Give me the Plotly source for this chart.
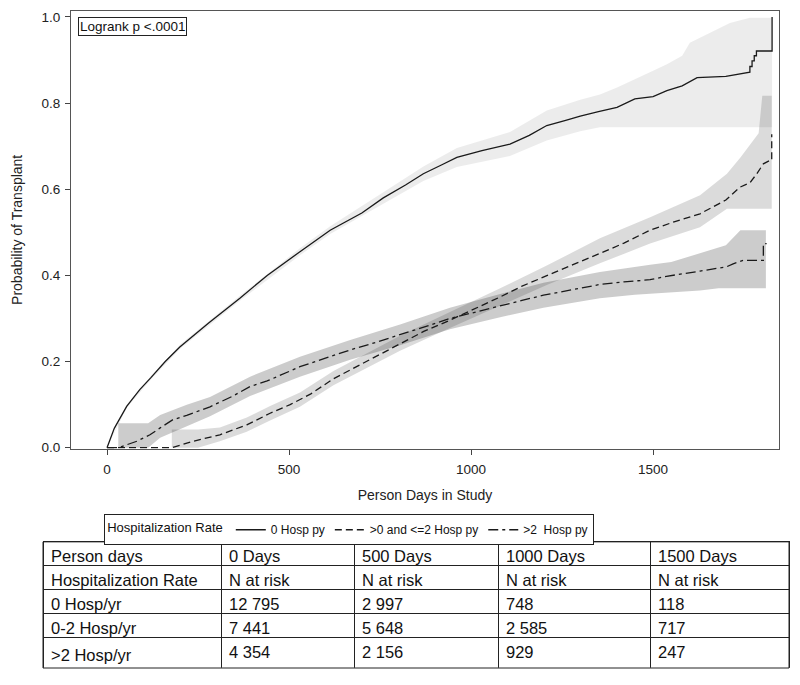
import plotly.graph_objects as go

# ---------------- data ----------------
# Group 1: 0 Hosp py (solid)
s_days = [0, 20, 54, 90, 120, 160, 200, 280, 365, 440, 530, 613, 700, 759, 820, 869, 920, 961,
          1030, 1107, 1160, 1208, 1260, 1300, 1350, 1401, 1450, 1500, 1538, 1580, 1621, 1700,
          1766, 1766, 1772, 1772, 1778, 1778, 1784, 1784, 1827, 1827]
s_est = [0, .045, .096, .135, .162, .2, .234, .29, .347, .40, .455, .505, .545, .58, .61, .636, .657, .674,
         .69, .705, .725, .748, .76, .77, .78, .79, .81, .815, .829, .84, .859, .862,
         .872, .885, .885, .898, .898, .91, .91, .921, .921, 1.0]
sb_days = [0, 54, 120, 200, 365, 530, 613, 759, 869, 961, 1107, 1208, 1300, 1354, 1401, 1500,
           1538, 1580, 1601, 1656, 1711, 1766, 1827]
sb_lo = [0, .092, .158, .229, .341, .447, .496, .567, .619, .652, .677, .713, .735, .744, .744, .744,
         .744, .744, .744, .744, .744, .744, .744]
sb_hi = [0, .100, .166, .239, .353, .463, .514, .593, .653, .696, .733, .783, .808, .82, .836, .875,
         .89, .91, .94, .963, .986, .998, .998]

# Group 2: >0 and <=2 Hosp py (dashed)
d_days = [0, 178, 237, 310, 384, 448, 503, 560, 622, 700, 805, 870, 942, 1010, 1080, 1140, 1208,
          1280, 1354, 1420, 1492, 1560, 1629, 1700, 1739, 1766, 1785, 1803, 1821, 1826, 1826]
d_est = [0, 0, .015, .03, .053, .08, .10, .125, .16, .195, .242, .27, .296, .322, .35, .375, .40,
         .425, .451, .475, .505, .525, .543, .575, .605, .615, .636, .659, .667, .667, .728]
db_days = [178, 250, 310, 384, 448, 530, 622, 805, 942, 1080, 1208, 1354, 1492, 1629, 1703, 1740,
           1775, 1790, 1800, 1826]
db_lo = [0, 0, .015, .037, .063, .095, .145, .225, .278, .33, .378, .428, .474, .512, .555, .555,
         .555, .555, .555, .555]
db_hi = [.042, .042, .047, .07, .097, .128, .178, .26, .315, .37, .423, .486, .535, .586, .636, .674,
         .713, .73, .817, .817]

# Group 3: >2 Hosp py (dash-dot)
dd_days = [0, 31, 82, 118, 146, 181, 219, 283, 346, 393, 440, 530, 600, 668, 740, 805, 870, 942,
           1010, 1080, 1140, 1199, 1280, 1354, 1420, 1492, 1537, 1580, 1629, 1702, 1720, 1748,
           1803, 1803, 1812]
dd_est = [0, 0, .015, .03, .046, .065, .075, .095, .12, .142, .155, .188, .208, .227, .245, .262, .28, .300,
          .315, .33, .342, .354, .367, .379, .385, .39, .398, .403, .41, .42, .427, .435,
          .435, .474, .474]
ddb_days = [31, 113, 146, 219, 283, 393, 530, 668, 805, 942, 1080, 1199, 1354, 1450, 1492, 1550,
            1629, 1680, 1700, 1740, 1810]
ddb_lo = [0, 0, .023, .05, .073, .12, .165, .204, .238, .275, .303, .325, .347, .355, .357, .36,
          .365, .37, .37, .37, .37]
ddb_hi = [.057, .057, .076, .1, .118, .165, .211, .25, .286, .325, .357, .383, .408, .42, .425, .431,
          .451, .465, .47, .505, .505]

group_names = ["0 Hosp py", ">0 and &lt;=2 Hosp py", ">2  Hosp py"]

x_ticks = [0, 500, 1000, 1500]
y_ticks = [0.0, 0.2, 0.4, 0.6, 0.8, 1.0]

# Number-at-risk table
table_header = ["Person days", "0 Days", "500 Days", "1000 Days", "1500 Days"]
table_row_labels = ["Hospitalization Rate", "0 Hosp/yr", "0-2 Hosp/yr", ">2 Hosp/yr"]
risk_0 = [12795, 2997, 748, 118]
risk_02 = [7441, 5648, 2585, 717]
risk_gt2 = [4354, 2156, 929, 247]

# ---------------- figure ----------------
FONT = "Liberation Sans, Arial, sans-serif"
LINE = "#1a1a1a"
TABLE_TOP = 0.192

fig = go.Figure()

def band(xs, lo, hi, color):
    fig.add_trace(go.Scatter(
        x=list(xs) + list(xs)[::-1], y=list(lo) + list(hi)[::-1],
        fill="toself", fillcolor=color, line=dict(width=0), mode="lines",
        showlegend=False, hoverinfo="skip"))

band(sb_days, sb_lo, sb_hi, "rgba(0,0,0,0.075)")
band(db_days, db_lo, db_hi, "rgba(0,0,0,0.14)")
band(ddb_days, ddb_lo, ddb_hi, "rgba(0,0,0,0.2)")

fig.add_trace(go.Scatter(x=s_days, y=s_est, mode="lines", name=group_names[0],
                         line=dict(color=LINE, width=1.3, dash="solid")))
fig.add_trace(go.Scatter(x=d_days, y=d_est, mode="lines", name=group_names[1],
                         line=dict(color=LINE, width=1.3, dash="7px,4px")))
fig.add_trace(go.Scatter(x=dd_days, y=dd_est, mode="lines", name=group_names[2],
                         line=dict(color=LINE, width=1.3, dash="10px,4px,3px,4px")))

def fmt(v):
    return f"{v:,}".replace(",", " ")

cols = [table_row_labels]
for i in range(4):
    cols.append(["N at risk", fmt(risk_0[i]), fmt(risk_02[i]), fmt(risk_gt2[i])])

fig.add_trace(go.Table(
    domain=dict(x=[0, 1], y=[0, TABLE_TOP]),
    columnwidth=[178, 133, 144, 152, 139],
    header=dict(values=table_header, align="left", height=24,
                fill=dict(color="white"), line=dict(color="#222", width=1),
                font=dict(family=FONT, size=16.5, color="#111")),
    cells=dict(values=cols, align="left", height=24,
               fill=dict(color="white"), line=dict(color="#222", width=1),
               font=dict(family=FONT, size=16.5, color="#111")),
))

# page has an 8px body margin, so the figure is 784x669 and placed at (8, 8)
fig.update_layout(
    width=784, height=669,
    margin=dict(l=35, r=3, t=2, b=8),
    paper_bgcolor="white", plot_bgcolor="white",
    font=dict(family=FONT, size=13, color="#222"),
    xaxis=dict(domain=[0.0375, 0.9866], range=[-99, 1846], tickvals=x_ticks,
               ticks="outside", ticklen=5, tickcolor="#444", showgrid=False, zeroline=False,
               showline=True, linecolor="#555", linewidth=1, mirror=True, ticklabelstandoff=3,
               tickfont=dict(size=13.5), title=dict(text="Person Days in Study", font=dict(size=14), standoff=14)),
    yaxis=dict(domain=[0.3338, 1.0], range=[-0.0023, 1.0139], tickvals=y_ticks, tickformat=".1f",
               ticks="outside", ticklen=5, tickcolor="#444", showgrid=False, zeroline=False,
               showline=True, linecolor="#555", linewidth=1, mirror=True, ticklabelstandoff=2,
               tickfont=dict(size=13.5), title=dict(text="Probability of Transplant", font=dict(size=14), standoff=15)),
    legend=dict(orientation="h", x=0.082, xanchor="left", y=0.234, yanchor="top",
                bordercolor="#222", borderwidth=1, bgcolor="white",
                title=dict(text="Hospitalization Rate", font=dict(size=13)),
                font=dict(size=12, color="#111"),
                itemwidth=30, tracegroupgap=0),
    annotations=[dict(text="Logrank p &lt;.0001", xref="paper", yref="paper",
                      x=0.0469, y=0.9909, xanchor="left", yanchor="top", showarrow=False,
                      bordercolor="#222", borderwidth=1, borderpad=1,
                      font=dict(family=FONT, size=13.5, color="#111"))],
    shapes=[dict(type="rect", xref="paper", yref="paper", x0=0, x1=1, y0=0, y1=TABLE_TOP,
                 line=dict(color="#222", width=1), fillcolor="rgba(0,0,0,0)", layer="above")],
)

fig.write_html("out.html")
